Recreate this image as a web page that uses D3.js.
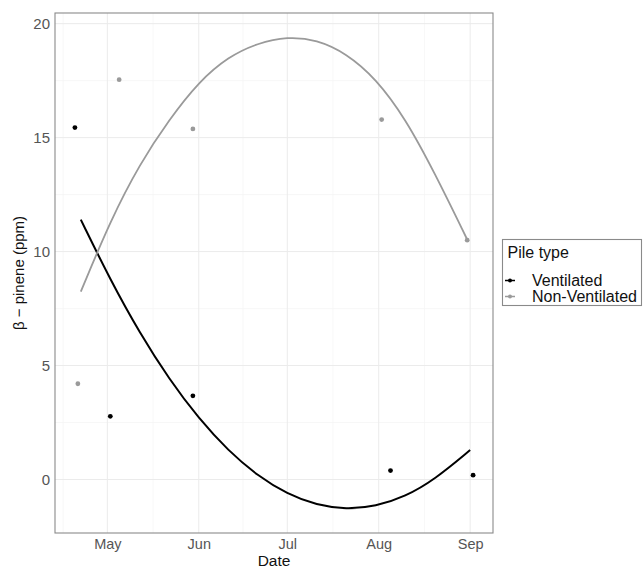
<!DOCTYPE html>
<html>
<head>
<meta charset="utf-8">
<script src="https://cdn.jsdelivr.net/npm/d3@7"></script>
<style>
  body { margin: 0; background: #fff; }
  text { font-family: "Liberation Sans", Arial, sans-serif; }
</style>
</head>
<body>
<div id="chart"></div>
<script>
var ventDates = ['2019-04-20', '2019-05-02', '2019-05-30', '2019-08-05', '2019-09-02'];
var ventValues = [15.44, 2.77, 3.67, 0.39, 0.19];
var nonVentDates = ['2019-04-21', '2019-05-05', '2019-05-30', '2019-08-02', '2019-08-31'];
var nonVentValues = [4.2, 17.54, 15.38, 15.79, 10.5];

// smooth trend lines
var ventFitDates = ['2019-04-22', '2019-05-02', '2019-05-12', '2019-05-22', '2019-06-01', '2019-06-11', '2019-06-21',
  '2019-07-01', '2019-07-11', '2019-07-21', '2019-07-31', '2019-08-10', '2019-08-20', '2019-09-01'];
var ventFitValues = [11.4, 8.76, 6.42, 4.39, 2.67, 1.26, 0.16, -0.64, -1.13, -1.31, -1.18, -0.75, 0.0, 1.29];
var nonVentFitDates = ['2019-04-22', '2019-05-02', '2019-05-12', '2019-05-22', '2019-06-01', '2019-06-11', '2019-06-21',
  '2019-07-01', '2019-07-11', '2019-07-21', '2019-07-31', '2019-08-10', '2019-08-20', '2019-08-31'];
var nonVentFitValues = [8.24, 11.35, 13.85, 15.8, 17.45, 18.55, 19.15, 19.43, 19.3, 18.7, 17.6, 15.85, 13.45, 10.53];

var yTicks = [0, 5, 10, 15, 20];
var legendLabels = ['Ventilated', 'Non-Ventilated'];
var seriesColors = ['#000000', '#9a9a9a'];

var parse = d3.timeParse('%Y-%m-%d');

function zip(dates, values) {
  return dates.map(function(d, i) { return {date: parse(d), value: values[i]}; });
}

var series = [
  {name: legendLabels[0], color: seriesColors[0], points: zip(ventDates, ventValues), fit: zip(ventFitDates, ventFitValues), width: 2},
  {name: legendLabels[1], color: seriesColors[1], points: zip(nonVentDates, nonVentValues), fit: zip(nonVentFitDates, nonVentFitValues), width: 1.8}
];

var width = 643, height = 568;
var margin = {top: 13, right: 150, bottom: 35, left: 55};

var allPoints = series[0].points.concat(series[1].points);
var allValues = allPoints.concat(series[0].fit, series[1].fit);

var xExt = d3.extent(allPoints, function(d) { return d.date; });
var xPad = (xExt[1] - xExt[0]) * 0.05;
var x = d3.scaleTime()
  .domain([new Date(+xExt[0] - xPad), new Date(+xExt[1] + xPad)])
  .range([margin.left, width - margin.right]);

var yExt = d3.extent(allValues, function(d) { return d.value; });
var yPad = (yExt[1] - yExt[0]) * 0.05;
var y = d3.scaleLinear()
  .domain([yExt[0] - yPad, yExt[1] + yPad])
  .range([height - margin.bottom, margin.top]);

var svg = d3.select('#chart').append('svg')
  .attr('width', width)
  .attr('height', height);

var monthTicks = x.ticks(d3.timeMonth.every(1));
var xMinor = [];
var allMonths = d3.timeMonth.range(d3.timeMonth.offset(monthTicks[0], -1), d3.timeMonth.offset(monthTicks[monthTicks.length - 1], 2));
for (var i = 0; i < allMonths.length - 1; i++) {
  var mid = new Date((+allMonths[i] + +allMonths[i + 1]) / 2);
  if (mid >= x.domain()[0] && mid <= x.domain()[1]) xMinor.push(mid);
}
var yMinor = yTicks.map(function(t) { return t + 2.5; }).concat([-2.5])
  .filter(function(t) { return t >= y.domain()[0] && t <= y.domain()[1]; });

var grid = svg.append('g');

grid.selectAll('.xminor').data(xMinor).enter().append('line')
  .attr('x1', function(d) { return x(d); }).attr('x2', function(d) { return x(d); })
  .attr('y1', margin.top).attr('y2', height - margin.bottom)
  .attr('stroke', '#f3f3f3').attr('stroke-width', 0.7);

grid.selectAll('.yminor').data(yMinor).enter().append('line')
  .attr('x1', margin.left).attr('x2', width - margin.right)
  .attr('y1', function(d) { return y(d); }).attr('y2', function(d) { return y(d); })
  .attr('stroke', '#f3f3f3').attr('stroke-width', 0.7);

grid.selectAll('.xmajor').data(monthTicks).enter().append('line')
  .attr('x1', function(d) { return x(d); }).attr('x2', function(d) { return x(d); })
  .attr('y1', margin.top).attr('y2', height - margin.bottom)
  .attr('stroke', '#ebebeb').attr('stroke-width', 1);

grid.selectAll('.ymajor').data(yTicks).enter().append('line')
  .attr('x1', margin.left).attr('x2', width - margin.right)
  .attr('y1', function(d) { return y(d); }).attr('y2', function(d) { return y(d); })
  .attr('stroke', '#ebebeb').attr('stroke-width', 1);

var line = d3.line()
  .x(function(d) { return x(d.date); })
  .y(function(d) { return y(d.value); })
  .curve(d3.curveBasis);

var groups = svg.selectAll('.series').data(series).enter().append('g');

groups.append('path')
  .attr('d', function(d) { return line(d.fit); })
  .attr('fill', 'none')
  .attr('stroke', function(d) { return d.color; })
  .attr('stroke-width', function(d) { return d.width; });

groups.selectAll('circle')
  .data(function(d) { return d.points.map(function(p) { return {date: p.date, value: p.value, color: d.color}; }); })
  .enter().append('circle')
  .attr('cx', function(d) { return x(d.date); })
  .attr('cy', function(d) { return y(d.value); })
  .attr('r', 2.4)
  .attr('fill', function(d) { return d.color; });

svg.append('rect')
  .attr('x', margin.left).attr('y', margin.top)
  .attr('width', width - margin.right - margin.left)
  .attr('height', height - margin.bottom - margin.top)
  .attr('fill', 'none')
  .attr('stroke', '#8a8a8a')
  .attr('stroke-width', 1.1);

var xAxis = svg.append('g')
  .attr('transform', 'translate(0,' + (height - margin.bottom) + ')')
  .call(d3.axisBottom(x).tickValues(monthTicks).tickFormat(d3.timeFormat('%b')).tickSize(0).tickPadding(6));
xAxis.select('.domain').remove();
xAxis.selectAll('text')
  .attr('font-size', '14.5px')
  .attr('fill', '#555');

var yAxis = svg.append('g')
  .attr('transform', 'translate(' + margin.left + ',0)')
  .call(d3.axisLeft(y).tickValues(yTicks).tickSize(0).tickPadding(5));
yAxis.select('.domain').remove();
yAxis.selectAll('text')
  .attr('font-size', '15px')
  .attr('fill', '#555');

svg.append('text')
  .attr('x', (margin.left + width - margin.right) / 2)
  .attr('y', 566)
  .attr('text-anchor', 'middle')
  .attr('font-size', '15.5px')
  .attr('fill', '#111')
  .text('Date');

svg.append('text')
  .attr('transform', 'translate(24,' + ((margin.top + height - margin.bottom) / 2) + ') rotate(-90)')
  .attr('text-anchor', 'middle')
  .attr('font-size', '15px')
  .attr('fill', '#111')
  .text('β − pinene (ppm)');

var legend = svg.append('g').attr('transform', 'translate(502.5,239.5)');

legend.append('rect')
  .attr('width', 139)
  .attr('height', 66)
  .attr('fill', '#fff')
  .attr('stroke', '#8a8a8a')
  .attr('stroke-width', 1.1);

legend.append('text')
  .attr('x', 5)
  .attr('y', 18.5)
  .attr('font-size', '16px')
  .attr('fill', '#111')
  .text('Pile type');

var items = legend.selectAll('.item').data(series).enter().append('g')
  .attr('transform', function(d, i) { return 'translate(0,' + (41 + i * 16) + ')'; });

items.append('line')
  .attr('x1', 2.5).attr('x2', 12.5)
  .attr('stroke', function(d) { return d.color; })
  .attr('stroke-width', 1.5);

items.append('circle')
  .attr('cx', 7.5)
  .attr('r', 2)
  .attr('fill', function(d) { return d.color; });

items.append('text')
  .attr('x', 29.5)
  .attr('y', 5.5)
  .attr('font-size', '16px')
  .attr('fill', '#111')
  .text(function(d) { return d.name; });
</script>
</body>
</html>
